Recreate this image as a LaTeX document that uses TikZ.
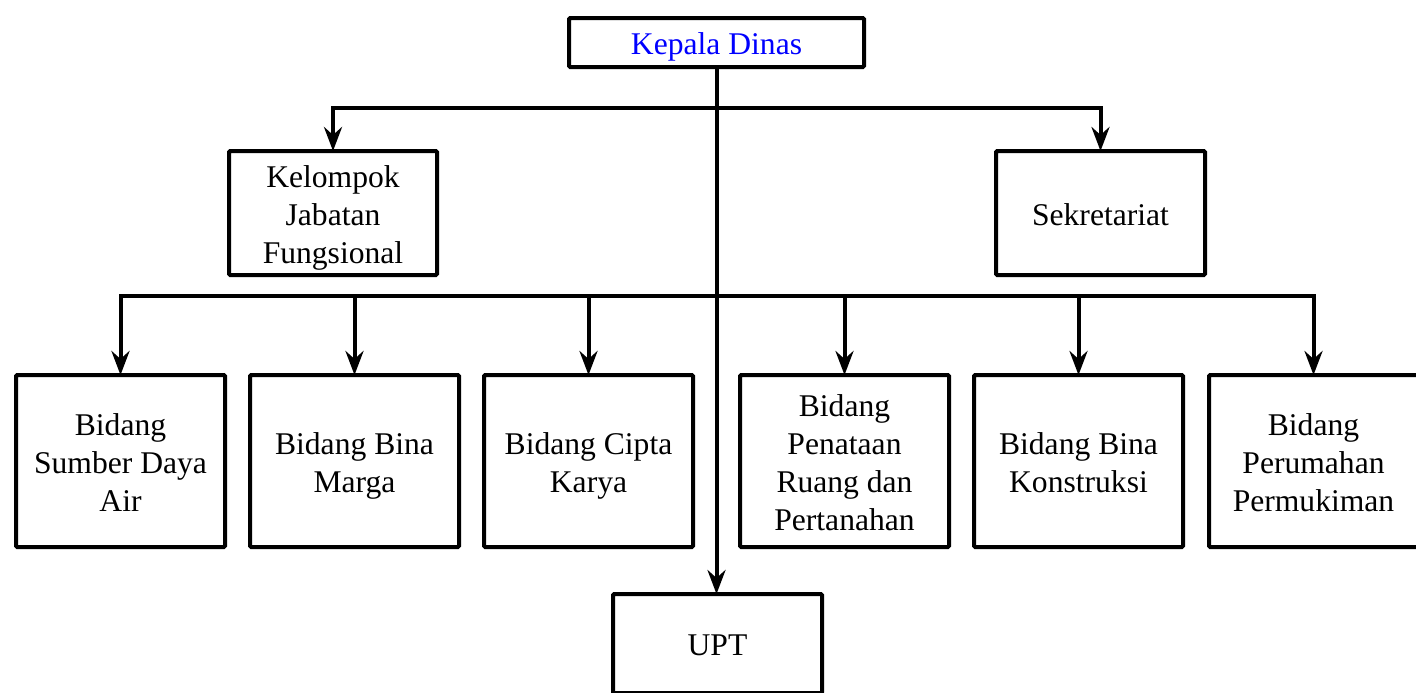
\documentclass[tikz,border=0pt]{standalone}
\usepackage{fontspec}
\setmainfont{Liberation Serif}
\usetikzlibrary{arrows.meta}
\newcommand\boxtext[1]{\raisebox{-2.3pt}[\height][\depth]{\begin{tabular}{@{}c@{}}#1\end{tabular}}}
\begin{document}
\begin{tikzpicture}[x=0.5pt,y=-0.5pt,
  box/.style={draw=black,line width=2pt,rounded corners=0.6pt,
    font=\fontsize{15.8pt}{19pt}\selectfont,inner sep=0pt,outer sep=0pt},
  bbox/.style={box,minimum width=104.5pt,minimum height=86pt},
  arr/.style={line width=2pt,-{Stealth[length=12pt,width=9pt,inset=4pt]}}]
\useasboundingbox (0,0) rectangle (1416,692);
\node[box,minimum width=147.5pt,minimum height=24.5pt,text=blue] (kd) at (716.5,42.5) {\boxtext{Kepala Dinas}};
\node[box,minimum width=104pt,minimum height=62pt] (kjf) at (333,213) {\boxtext{Kelompok\\Jabatan\\Fungsional}};
\node[box,minimum width=104.5pt,minimum height=62pt] (sek) at (1100.5,213) {\boxtext{Sekretariat}};
\node[bbox] (b1) at (120.5,461) {\boxtext{Bidang\\Sumber Daya\\Air}};
\node[bbox] (b2) at (354.5,461) {\boxtext{Bidang Bina\\Marga}};
\node[bbox] (b3) at (588.5,461) {\boxtext{Bidang Cipta\\Karya}};
\node[bbox] (b4) at (844.5,461) {\boxtext{Bidang\\Penataan\\Ruang dan\\Pertanahan}};
\node[bbox] (b5) at (1078.5,461) {\boxtext{Bidang Bina\\Konstruksi}};
\node[bbox] (b6) at (1313.5,461) {\boxtext{Bidang\\Perumahan\\Permukiman}};
\node[bbox,minimum height=49.5pt] (upt) at (717.5,643.5) {\boxtext{UPT}};
\coordinate (j1) at (716.5,108);
\coordinate (j2) at (716.5,296);
\draw[arr] (kd.south) -- (kd.south |- upt.north);
\draw[arr] (j1) -| (kjf.north);
\draw[arr] (j1) -| (sek.north);
\foreach \b in {b1,b2,b3,b4,b5,b6}{
  \draw[arr] (j2) -| (\b.north);
}
\end{tikzpicture}
\end{document}
